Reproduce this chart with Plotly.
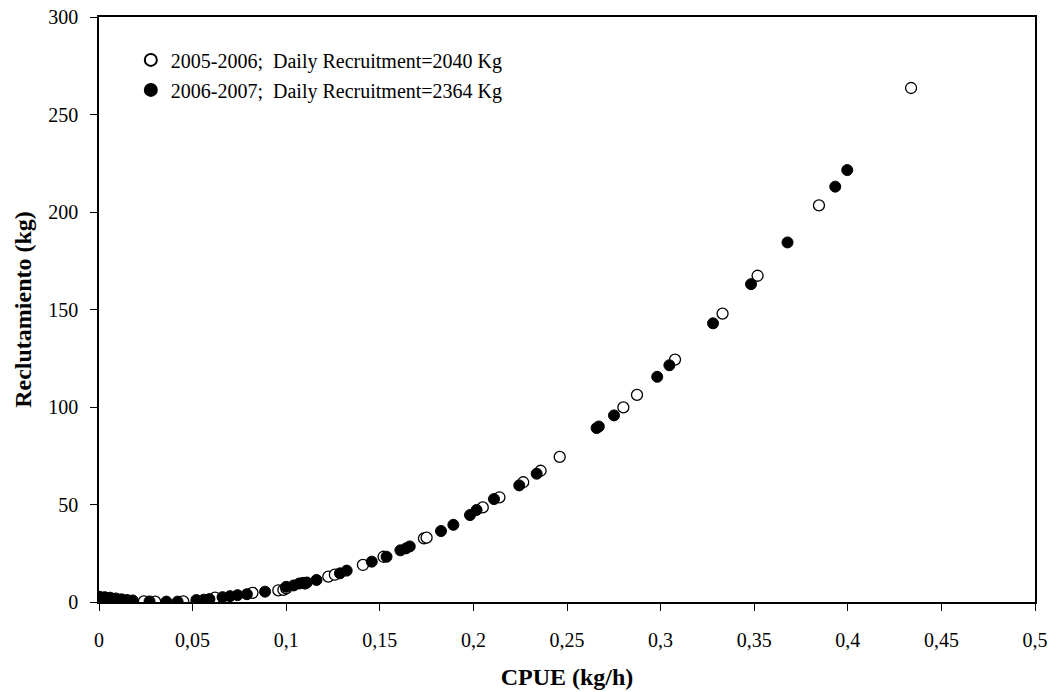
import plotly.graph_objects as go

# 2005-2006 (open circles)
cpue_0506 = [0.000, 0.004, 0.012, 0.024, 0.030, 0.045, 0.062, 0.082, 0.0958, 0.0985,
             0.100, 0.110, 0.1225, 0.126, 0.141, 0.152, 0.1736, 0.175, 0.205, 0.2139,
             0.2266, 0.2359, 0.2461, 0.2801, 0.2874, 0.3077, 0.3331, 0.3518, 0.3846, 0.4338]
recl_0506 = [2.5, 2.0, 1.0, 0.3, 0.2, 0.3, 2.2, 4.7, 6.0, 6.2,
             7.0, 9.5, 13.0, 14.0, 19.0, 23.2, 32.6, 33.0, 48.5, 53.7,
             61.4, 67.3, 74.4, 99.8, 106.2, 124.3, 147.9, 167.3, 203.4, 263.6]

# 2006-2007 (filled circles)
cpue_0607 = [0.000, 0.003, 0.006, 0.009, 0.012, 0.015, 0.018, 0.027, 0.036, 0.042,
             0.052, 0.056, 0.059, 0.066, 0.070, 0.074, 0.079, 0.0887, 0.100, 0.104,
             0.107, 0.109, 0.111, 0.1162, 0.1287, 0.1323, 0.1457, 0.1536, 0.161, 0.164,
             0.166, 0.1827, 0.1893, 0.1982, 0.2017, 0.211, 0.2245, 0.2338, 0.2658, 0.267,
             0.2751, 0.2982, 0.3047, 0.328, 0.3483, 0.3678, 0.3933, 0.3997]
recl_0607 = [2.7, 2.5, 2.2, 1.8, 1.4, 1.0, 0.8, 0.3, 0.2, 0.2,
             1.0, 1.2, 1.5, 2.5, 3.0, 3.5, 4.0, 5.3, 7.8, 8.5,
             9.5, 9.8, 10.0, 11.3, 14.7, 16.1, 20.7, 23.2, 26.5, 27.5,
             28.5, 36.4, 39.6, 44.6, 47.2, 52.8, 59.8, 65.8, 89.2, 90.0,
             95.7, 115.5, 121.4, 142.9, 163.0, 184.4, 213.0, 221.5]

legend_names = ["2005-2006;\u00a0\u00a0Daily Recruitment=2040 Kg",
                "2006-2007;\u00a0\u00a0Daily Recruitment=2364 Kg"]
x_ticks = [0, 0.05, 0.1, 0.15, 0.2, 0.25, 0.3, 0.35, 0.4, 0.45, 0.5]
y_ticks = [0, 50, 100, 150, 200, 250, 300]

FONT = "Liberation Serif, Times New Roman, serif"

fig = go.Figure()
fig.add_trace(go.Scatter(
    x=cpue_0506, y=recl_0506, mode="markers", name=legend_names[0],
    legendgroup="a",
    marker=dict(symbol="circle", size=11, color="white",
                line=dict(color="black", width=1.3)),
))
fig.add_trace(go.Scatter(
    x=cpue_0607, y=recl_0607, mode="markers", name=legend_names[1],
    legendgroup="b",
    marker=dict(symbol="circle", size=11, color="black",
                line=dict(color="black", width=1)),
))

fig.update_layout(
    width=1060, height=692,
    margin=dict(l=99, r=25, t=17, b=90),
    paper_bgcolor="white", plot_bgcolor="white",
    separators=",.",
    font=dict(family=FONT, size=20, color="black"),
    showlegend=True,
    legend=dict(x=0.034, y=0.96, xanchor="left", yanchor="top",
                bgcolor="rgba(0,0,0,0)", font=dict(family=FONT, size=20),
                tracegroupgap=1, itemsizing="constant"),
    xaxis=dict(range=[0, 0.5], tickvals=x_ticks, ticks="outside", ticklen=7,
               tickcolor="black", showgrid=False, zeroline=False,
               showline=True, linecolor="black", linewidth=2, mirror=True,
               ticklabelstandoff=12, automargin=False,
               title=dict(text="<b>CPUE (kg/h)</b>", font=dict(size=24), standoff=18)),
    yaxis=dict(range=[0, 300], tickvals=y_ticks, ticks="outside", ticklen=7,
               tickcolor="black", showgrid=False, zeroline=False,
               showline=True, linecolor="black", linewidth=1.5, mirror=True,
               ticklabelstandoff=8, automargin=False,
               title=dict(text="<b>Reclutamiento (kg)</b>", font=dict(size=24), standoff=10)),
)

fig.write_html("out.html")
